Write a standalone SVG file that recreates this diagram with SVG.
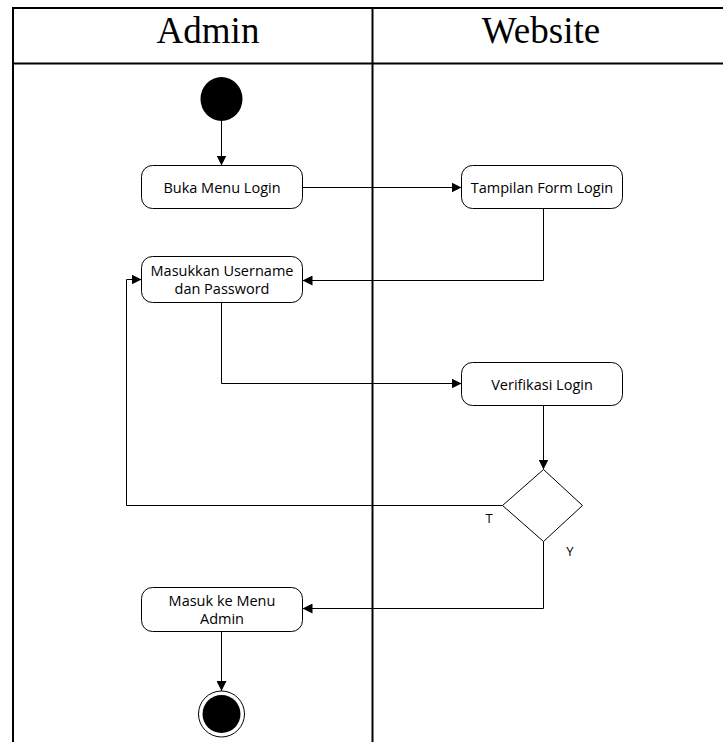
<svg xmlns="http://www.w3.org/2000/svg" width="723" height="742" viewBox="0 0 723 742">
  <style>
    .lane { stroke: #000; stroke-width: 2; fill: none; }
    .title { font-family: "Liberation Serif", "Times New Roman", serif; font-size: 37px; fill: #000; text-anchor: middle; }
    .act { fill: #fff; stroke: #000; stroke-width: 1; }
    .lbl { font-family: "Open Sans", "Noto Sans", sans-serif; font-size: 14.5px; fill: #000; text-anchor: middle; }
    .guard { font-family: "Open Sans", "Noto Sans", sans-serif; font-size: 13px; fill: #000; text-anchor: middle; }
    .edge { stroke: #000; stroke-width: 1; fill: none; marker-end: url(#arrow); }
    .line { stroke: #000; stroke-width: 1; fill: none; }
  </style>
  <defs>
    <marker id="arrow" viewBox="0 0 10 10" refX="10" refY="5" markerWidth="10" markerHeight="10" markerUnits="userSpaceOnUse" orient="auto">
      <path d="M0,0 L10,5 L0,10 z" fill="#000"/>
    </marker>
  </defs>

  <rect width="723" height="742" fill="#fff"/>

  <!-- swimlane frame -->
  <g id="swimlanes">
    <path class="lane" d="M13,742 V8 H723"/>
    <line class="lane" x1="13" y1="63.5" x2="723" y2="63.5"/>
    <line class="lane" x1="372.5" y1="8" x2="372.5" y2="742"/>
    <text class="title" x="208" y="43">Admin</text>
    <text class="title" x="541" y="43">Website</text>
  </g>

  <!-- connectors -->
  <g id="connectors">
    <path class="edge" d="M221.5,120 V165.5"/>
    <path class="edge" d="M302.5,187.5 H461.5"/>
    <path class="line" d="M543.5,208.5 V280.5"/>
    <path class="edge" d="M543.5,280.5 H302.5"/>
    <path class="line" d="M221.5,302.5 V383.5"/>
    <path class="edge" d="M221.5,383.5 H461.5"/>
    <path class="edge" d="M543.5,405.5 V469.5"/>
    <path class="edge" d="M502.5,505.5 H126.5 V279.5 H141.5"/>
    <path class="edge" d="M543.5,541.5 V608.5 H302.5"/>
    <path class="edge" d="M221.5,631.5 V691"/>
    <text class="guard" x="489" y="523">T</text>
    <text class="guard" x="570" y="556">Y</text>
  </g>

  <g id="start">
    <ellipse cx="221.5" cy="99" rx="21" ry="22" fill="#000"/>
  </g>

  <g id="buka-menu-login">
    <rect class="act" x="141.5" y="165.5" width="161" height="43" rx="11"/>
    <text class="lbl" x="222" y="192.5">Buka Menu Login</text>
  </g>

  <g id="tampilan-form-login">
    <rect class="act" x="461.5" y="165.5" width="161" height="43" rx="11"/>
    <text class="lbl" x="542" y="192.5">Tampilan Form Login</text>
  </g>

  <g id="masukkan-username">
    <rect class="act" x="141.5" y="256.5" width="161" height="46" rx="11"/>
    <text class="lbl" x="222" y="276">Masukkan Username</text>
    <text class="lbl" x="222" y="294">dan Password</text>
  </g>

  <g id="verifikasi-login">
    <rect class="act" x="461.5" y="362.5" width="161" height="43" rx="11"/>
    <text class="lbl" x="542" y="389.5">Verifikasi Login</text>
  </g>

  <g id="decision">
    <polygon class="act" points="543.5,469.5 582.5,505.5 543.5,541.5 502.5,505.5"/>
  </g>

  <g id="masuk-menu-admin">
    <rect class="act" x="141.5" y="587.5" width="161" height="44" rx="11"/>
    <text class="lbl" x="222" y="606">Masuk ke Menu</text>
    <text class="lbl" x="222" y="624">Admin</text>
  </g>

  <g id="end">
    <circle cx="221.5" cy="714" r="23" fill="#fff" stroke="#000" stroke-width="1"/>
    <circle cx="221.5" cy="714" r="19" fill="#000"/>
  </g>
</svg>
